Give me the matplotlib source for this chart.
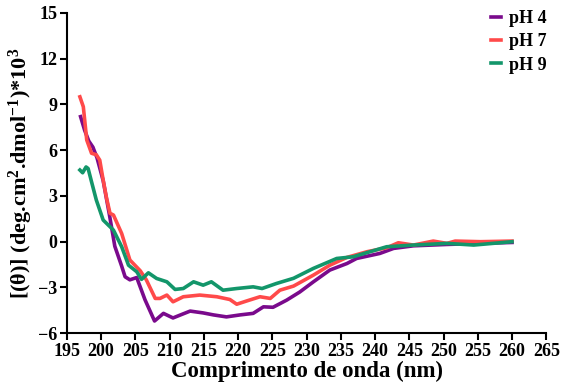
import numpy as np
import matplotlib.pyplot as plt

plt.rcParams['font.family'] = ['Liberation Serif', 'DejaVu Serif']
plt.rcParams['font.weight'] = 'bold'
plt.rcParams['mathtext.fontset'] = 'custom'
plt.rcParams['mathtext.rm'] = 'Liberation Serif:bold'
plt.rcParams['mathtext.bf'] = 'Liberation Serif:bold'
plt.rcParams['mathtext.it'] = 'Liberation Serif:bold:italic'

# pH 4
x_ph4 = [197.0, 197.6, 198.2, 198.8, 199.4, 200.3, 201.2, 202.0, 203.0, 203.5, 204.2, 205.2,
         206.4, 207.8, 209.1, 210.5, 211.6, 213.0, 214.9, 216.4, 218.3, 220.3, 222.2, 223.7,
         225.1, 227.1, 229.0, 231.0, 233.4, 235.9, 237.3, 240.7, 242.7, 245.6, 250.5, 255.4, 260.0]
y_ph4 = [8.2, 7.3, 6.6, 6.2, 5.5, 4.0, 1.8, -0.3, -1.6, -2.3, -2.5, -2.35,
         -3.8, -5.2, -4.7, -5.0, -4.8, -4.55, -4.67, -4.8, -4.93, -4.8, -4.7, -4.27,
         -4.3, -3.83, -3.3, -2.63, -1.86, -1.43, -1.1, -0.77, -0.44, -0.27, -0.18, -0.11, -0.05]

# pH 7
x_ph7 = [196.9, 197.4, 197.9, 198.6, 199.3, 199.8, 200.3, 200.8, 201.3, 201.8, 203.0, 204.2,
         205.7, 206.6, 207.9, 208.6, 209.6, 210.5, 212.0, 214.4, 216.9, 218.8, 219.8, 221.3,
         223.2, 224.7, 226.1, 228.1, 231.0, 233.4, 235.9, 238.8, 241.7, 243.4, 245.6, 248.5,
         250.5, 251.7, 255.4, 260.0]
y_ph7 = [9.5, 8.85, 6.67, 5.8, 5.7, 5.35, 4.04, 2.84, 1.86, 1.75, 0.54, -1.2,
         -1.9, -2.5, -3.72, -3.72, -3.5, -3.94, -3.61, -3.5, -3.61, -3.79, -4.1, -3.88,
         -3.61, -3.72, -3.18, -2.91, -2.19, -1.54, -1.03, -0.66, -0.4, -0.07, -0.22, 0.04,
         -0.11, 0.04, 0.0, 0.04]

# pH 9
x_ph9 = [196.9, 197.3, 197.8, 198.1, 198.6, 199.3, 200.3, 201.8, 203.0, 204.0, 205.2, 205.9,
         206.9, 208.1, 209.6, 210.8, 212.0, 213.5, 214.9, 216.1, 217.8, 219.8, 222.2, 223.5,
         225.6, 228.1, 231.0, 234.4, 236.8, 238.8, 241.7, 245.6, 250.5, 254.4, 260.0]
y_ph9 = [4.7, 4.52, 4.9, 4.8, 3.93, 2.73, 1.42, 0.76, -0.33, -1.54, -1.97, -2.47,
         -2.04, -2.41, -2.63, -3.13, -3.07, -2.63, -2.85, -2.63, -3.18, -3.07, -2.96, -3.07,
         -2.74, -2.4, -1.75, -1.1, -0.99, -0.72, -0.33, -0.22, -0.11, -0.22, 0.0]

fig = plt.figure(figsize=(5.62, 3.92), dpi=100)
ax = fig.add_axes([0.119, 0.150, 0.853, 0.817])

ax.plot(x_ph4, y_ph4, color='#7a0a8c', lw=2.6, label='pH 4')
ax.plot(x_ph7, y_ph7, color='#ff4a4a', lw=2.6, label='pH 7')
ax.plot(x_ph9, y_ph9, color='#13966a', lw=2.6, label='pH 9')

ax.set_xlim(195, 265)
ax.set_ylim(-6, 15)
ax.set_xticks(np.arange(195, 266, 5))
ax.set_yticks(np.arange(-6, 16, 3))
ax.spines['top'].set_visible(False)
ax.spines['right'].set_visible(False)
for s in ('left', 'bottom'):
    ax.spines[s].set_linewidth(1.5)
ax.tick_params(direction='out', length=5, width=1.5, labelsize=13, pad=2)
for lab in ax.get_xticklabels() + ax.get_yticklabels():
    lab.set_fontweight('bold')

ax.set_xlabel('Comprimento de onda (nm)', fontsize=16.5, fontweight='bold', labelpad=1)
ax.set_ylabel('[(θ)] (deg.cm$^{2}$.dmol$^{-1}$)*10$^{3}$',
              fontsize=16, fontweight='bold', labelpad=2)

leg = ax.legend(loc='upper right', bbox_to_anchor=(1.035, 1.06), frameon=False,
                handlelength=0.55, handletextpad=0.45, labelspacing=0.35,
                prop={'weight': 'bold', 'size': 13})

fig.savefig('out.png', dpi=100)
